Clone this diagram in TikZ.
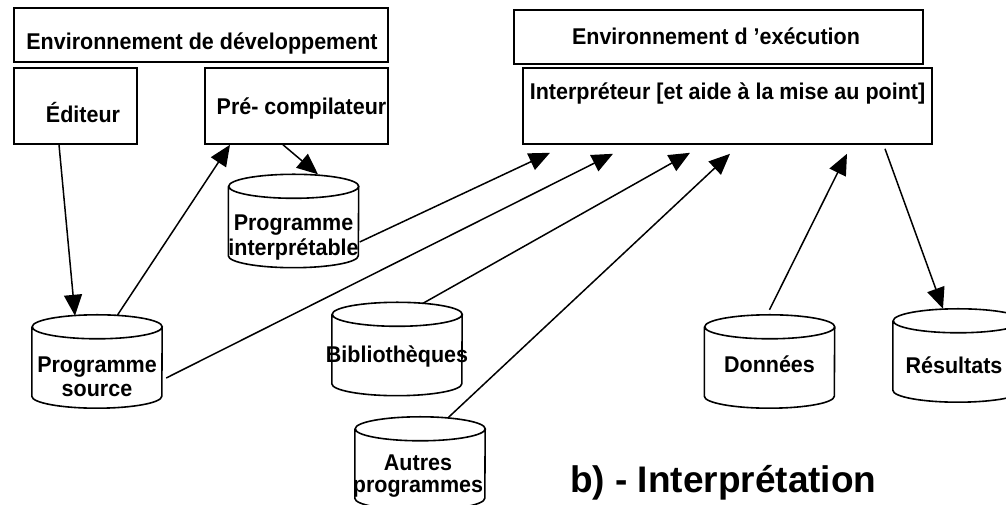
\documentclass[tikz,border=0pt]{standalone}
\usepackage{fontspec}
\setmainfont{Liberation Sans}
\usetikzlibrary{arrows.meta}
\begin{document}
\begin{tikzpicture}[x=1pt,y=1pt,
  box/.style={draw, line width=1.6pt, inner sep=0pt},
  cylnode/.style={minimum width=130pt, minimum height=93pt, inner sep=0pt},
  lbl/.style={font=\fontsize{21.5}{24}\selectfont\bfseries, inner sep=0pt, anchor=base},
  arr/.style={line width=1.5pt, -{Triangle[length=21pt,width=18pt]}},
  cyl/.style={line width=1.6pt}
]
\useasboundingbox (0,0) rectangle (1006,505);
\clip (0,0) rectangle (1006,505);

% boxes
\node[box, minimum width=374pt, minimum height=54pt] (envdev) at (201,470) {};
\node[box, minimum width=123pt, minimum height=76pt] (editeur) at (75.5,399) {};
\node[box, minimum width=183pt, minimum height=76pt] (precomp) at (296.5,399) {};
\node[box, minimum width=409pt, minimum height=54pt] (envexec) at (718.5,468) {};
\node[box, minimum width=409pt, minimum height=76pt] (interp) at (727.5,399) {};

\node[lbl] (envdev-t) at (202,455) {\scalebox{1}[1.06]{Environnement de développement}};
\node[lbl] (editeur-t) at (83,382) {\scalebox{1}[1.06]{Éditeur}};
\node[lbl] (precomp-t) at (301.5,390) {\scalebox{1}[1.06]{Pré- compilateur}};
\node[lbl] (envexec-t) at (716,460) {\scalebox{1}[1.06]{Environnement d ’exécution}};
\node[lbl] (interp-t) at (727.5,405) {\scalebox{1}[1.06]{Interpréteur [et aide à la mise au point]}};

% cylinders
\node[cylnode] (pinterp) at (293.5,284) {};
\node[cylnode] (psrc) at (97,143.5) {};
\node[cylnode] (biblio) at (397,156) {};
\node[cylnode] (autres) at (420,41.5) {};
\node[cylnode] (donnees) at (769.5,143.5) {};
\node[cylnode] (result) at (958,149.5) {};
\foreach \c in {pinterp,psrc,biblio,autres,donnees,result}{
  \draw[cyl] ([yshift=-12pt]\c.north west) -- ([yshift=12pt]\c.south west)
    arc[start angle=180,end angle=360,x radius=65pt,y radius=12pt]
    -- ([yshift=-12pt]\c.north east)
    arc[start angle=0,end angle=360,x radius=65pt,y radius=12pt];
}

\node[lbl] (pinterp-t1) at (293.5,274) {\scalebox{1}[1.06]{Programme}};
\node[lbl] (pinterp-t2) at (293.5,249) {\scalebox{1}[1.06]{interprétable}};
\node[lbl] (psrc-t1) at (97,132) {\scalebox{1}[1.06]{Programme}};
\node[lbl] (psrc-t2) at (97,108) {\scalebox{1}[1.06]{source}};
\node[lbl] (biblio-t) at (397,142) {\scalebox{1}[1.06]{Bibliothèques}};
\node[lbl] (autres-t1) at (418,34) {\scalebox{1}[1.06]{Autres}};
\node[lbl] (autres-t2) at (418,12) {\scalebox{1}[1.06]{programmes}};
\node[lbl] (donnees-t) at (769.5,132) {\scalebox{1}[1.06]{Données}};
\node[lbl] (result-t) at (954,131) {\scalebox{1}[1.06]{Résultats}};

\node[font=\fontsize{37}{40}\selectfont\bfseries, anchor=base west, inner sep=0pt] (title) at (570,12) {b) - Interprétation};

% connectors
\draw[arr] ([xshift=-16.5pt]editeur.south) -- ([xshift=-22pt,yshift=-1pt]psrc.north);
\draw[arr] ([xshift=20pt,yshift=-1pt]psrc.north) -- ([xshift=-66.5pt]precomp.south);
\draw[arr] ([xshift=-13.5pt]precomp.south) -- ([xshift=24.5pt]pinterp.north);
\draw[arr] ([xshift=1pt,yshift=-21pt]pinterp.east) -- ([xshift=-177.5pt,yshift=-8pt]interp.south);
\draw[arr] ([xshift=4pt,yshift=-16.5pt]psrc.east) -- ([xshift=-114.5pt,yshift=-9pt]interp.south);
\draw[arr] ([xshift=26pt,yshift=-1pt]biblio.north) -- ([xshift=-37.5pt,yshift=-8pt]interp.south);
\draw[arr] ([xshift=28pt,yshift=-1pt]autres.north) -- ([xshift=2.5pt,yshift=-9pt]interp.south);
\draw[arr] ([yshift=5pt]donnees.north) -- ([xshift=119.5pt,yshift=-9pt]interp.south);
\draw[arr] ([xshift=157.5pt,yshift=-4pt]interp.south) -- ([xshift=-15pt]result.north);
\end{tikzpicture}
\end{document}
